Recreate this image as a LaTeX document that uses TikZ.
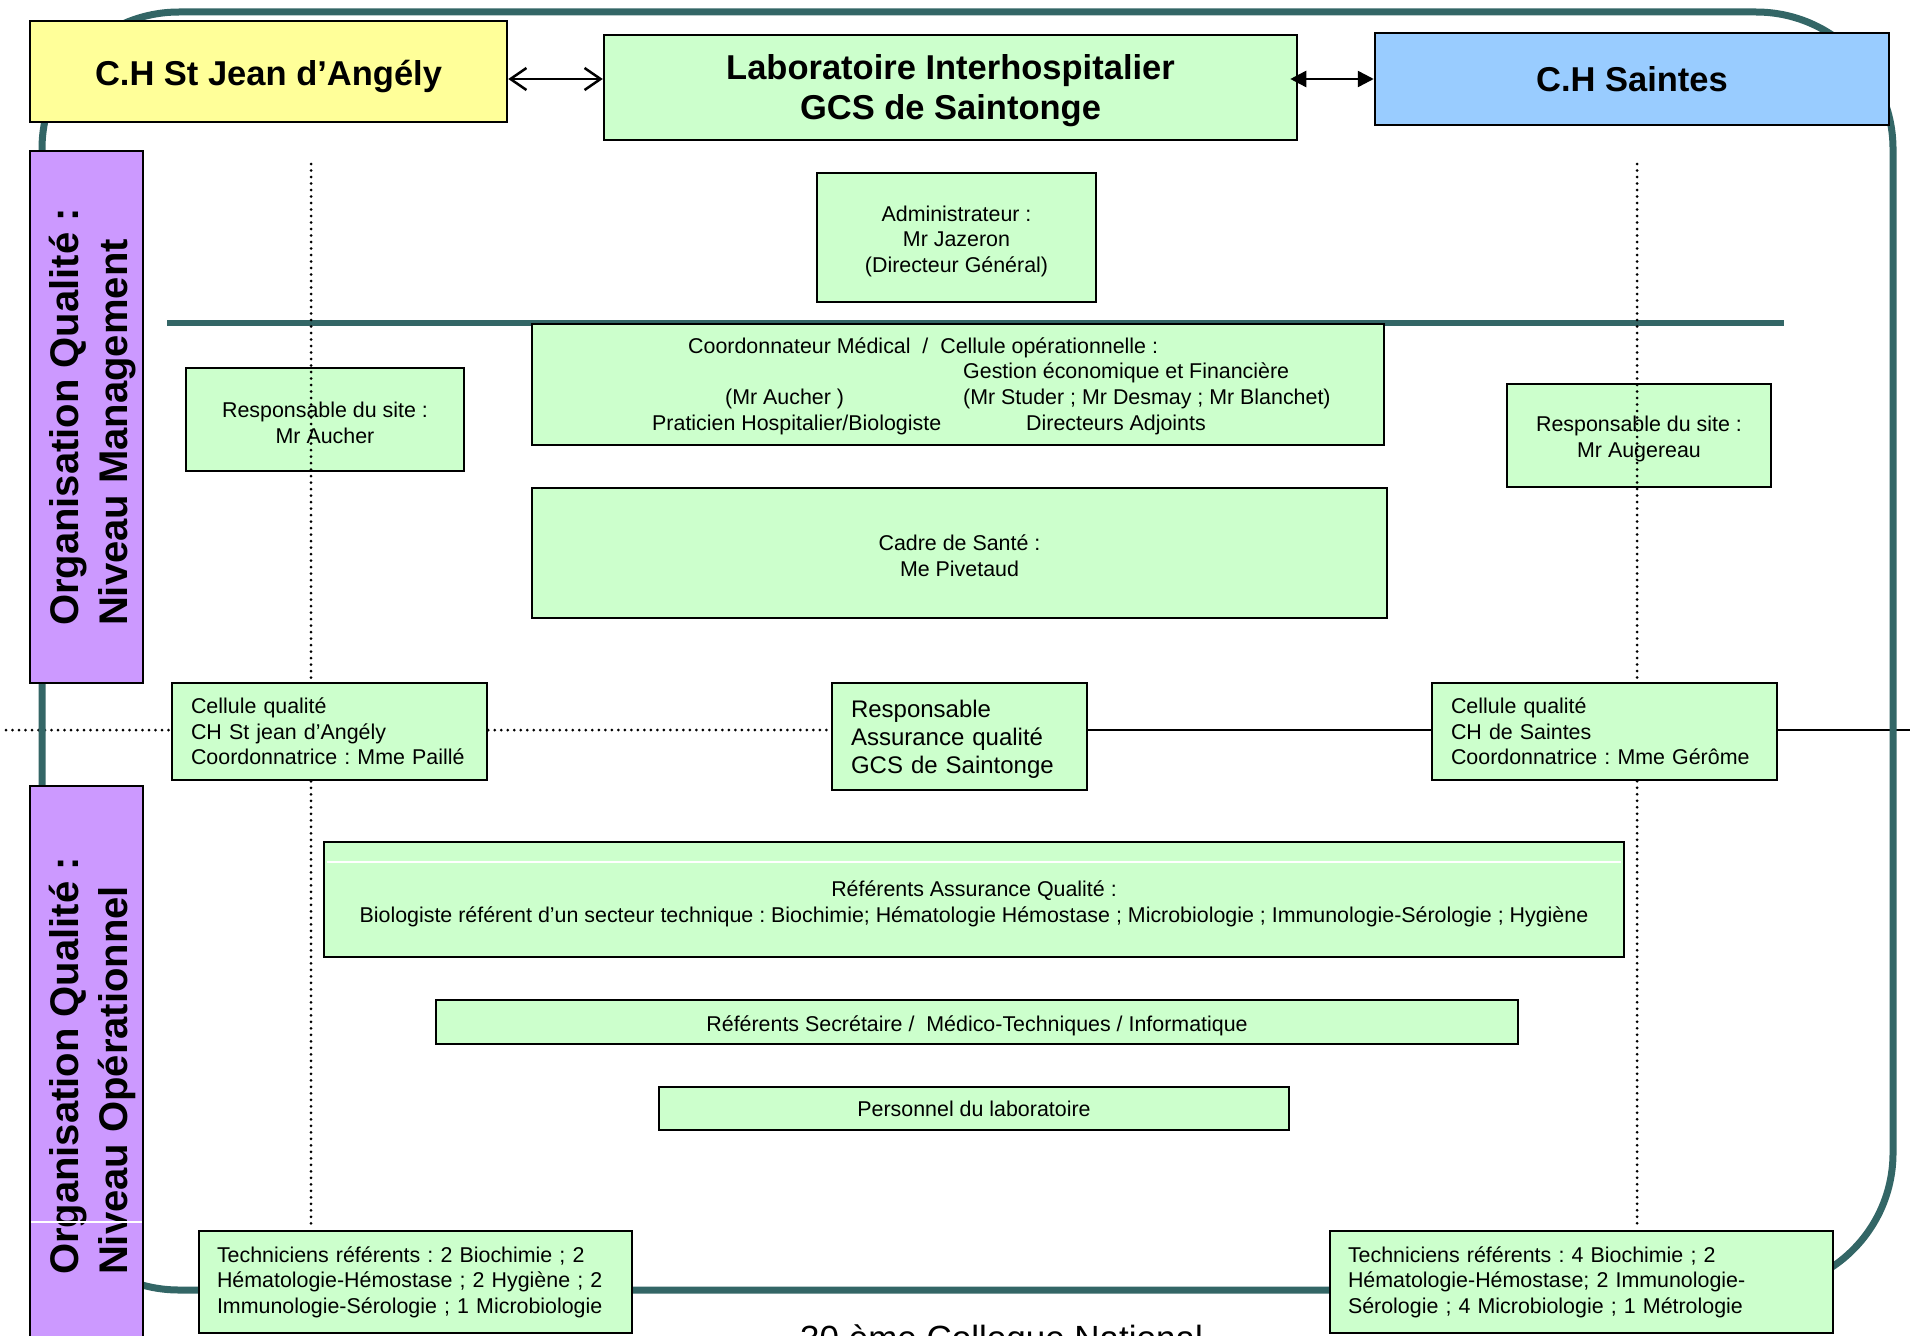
\documentclass[tikz,border=0pt]{standalone}
\usepackage{fontspec}
\setmainfont{Liberation Sans}
\usetikzlibrary{arrows.meta}
\definecolor{tealb}{RGB}{51,102,102}
\definecolor{gfill}{RGB}{204,255,204}
\definecolor{yfill}{RGB}{255,255,153}
\definecolor{bfill}{RGB}{153,204,255}
\definecolor{pfill}{RGB}{204,153,255}
\newcommand\myfhead{\fontsize{34.5}{40}\selectfont\bfseries}
\newcommand\myfpurp{\fontsize{40}{49}\selectfont\bfseries}
\newcommand\myfsmall{\fontsize{21.4}{25.6}\selectfont}
\newcommand\myfresp{\fontsize{24}{28}\selectfont}
\newcommand\myfbottom{\fontsize{35}{42}\selectfont}
\newcommand\mystrut[1]{\rule{0pt}{#1pt}}
\frenchspacing
\pgfdeclarelayer{bg}
\pgfsetlayers{bg,main}
\begin{document}
\frenchspacing
\begin{tikzpicture}[x=1pt,y=-1pt,
  box/.style={draw=black, line width=2.5pt, fill=gfill, inner sep=0pt, align=center, font=\myfsmall\frenchspacing},
  lbox/.style={box, align=left, inner xsep=19pt},
  txt/.style={anchor=base west, inner sep=0pt, font=\myfsmall\frenchspacing},
  tealline/.style={draw=tealb, line width=7pt},
  dotline/.style={line width=3pt, line cap=round, dash pattern=on 0pt off 6.5pt},
  solidline/.style={line width=2.5pt}]
\useasboundingbox (0,0) rectangle (1910,1335);
\clip (0,0) rectangle (1910,1335);

% outer teal frame and separator
\draw[tealline, rounded corners=137pt] (42,12) rectangle (1893,1290);
\coordinate (tl1) at (167,323);
\coordinate (tl2) at (1784,323);
\draw[tealline, line width=6pt] (tl1) -- (tl2);

% header boxes
\node[box, fill=yfill, font=\myfhead, minimum width=477pt, minimum height=101pt] (stjean) at (268.5,71.5) {\mystrut{36}C.H St Jean d’Angély};
\node[box, font=\myfhead, minimum width=693pt, minimum height=105pt] (labo) at (950.5,87.5) {\mystrut{32}Laboratoire Interhospitalier\\GCS de Saintonge};
\node[box, fill=bfill, font=\myfhead, minimum width=514pt, minimum height=92pt] (saintes) at (1632,79) {C.H Saintes};

% purple side boxes
\node[box, fill=pfill, rotate=90, font=\myfpurp, align=left, minimum width=532pt, minimum height=113pt] (pmgmt) at (86.5,417) {\mystrut{42}Organisation Qualité :\\Niveau Management};
\node[box, fill=pfill, rotate=90, font=\myfpurp, align=left, minimum width=560pt, minimum height=113pt] (poper) at (86.5,1066) {\mystrut{42}Organisation Qualité :\\Niveau Opérationnel};

% management level
\node[box, minimum width=279pt, minimum height=129pt] (admin) at (956.5,237.5) {\mystrut{23}Administrateur :\\Mr Jazeron\\(Directeur Général)};
\node[box, minimum width=852pt, minimum height=121pt] (coord) at (958,384.5) {};
\node[txt] (c1) at (688,353) {Coordonnateur Médical\ \ /\ \ Cellule opérationnelle :};
\node[txt] (c2) at (963,378) {Gestion économique et Financière};
\node[txt] (c3) at (725,404) {(Mr Aucher )};
\node[txt] (c4) at (963,404) {(Mr Studer ; Mr Desmay ; Mr Blanchet)};
\node[txt] (c5) at (652,430) {Praticien Hospitalier/Biologiste};
\node[txt] (c6) at (1026,430) {Directeurs Adjoints};
\node[box, minimum width=278pt, minimum height=103pt] (respL) at (325,419.5) {\mystrut{22.5}Responsable du site :\\Mr Aucher};
\node[box, minimum width=264pt, minimum height=103pt] (respR) at (1639,435.5) {\mystrut{22.5}Responsable du site :\\Mr Augereau};
\node[box, minimum width=855pt, minimum height=130pt] (cadre) at (959.5,553) {\mystrut{21}Cadre de Santé :\\Me Pivetaud};

% operational level
\node[box, minimum width=1300pt, minimum height=115pt] (refaq) at (974,899.5) {\mystrut{24}Référents Assurance Qualité :\\Biologiste référent d’un secteur technique : Biochimie; Hématologie Hémostase ; Microbiologie ; Immunologie-Sérologie ; Hygiène};
\node[box, minimum width=1082pt, minimum height=44pt] (refsec) at (977,1022) {\mystrut{24}Référents Secrétaire /\ \ Médico-Techniques / Informatique};
\node[box, minimum width=630pt, minimum height=43pt] (perso) at (974,1108.5) {Personnel du laboratoire};
\node[lbox, inner xsep=18pt, text width=397pt, minimum height=102pt] (techL) at (415.5,1282) {Techniciens référents : 2 Biochimie ; 2\\Hématologie-Hémostase ; 2 Hygiène ; 2\\Immunologie-Sérologie ; 1 Microbiologie};
\node[lbox, inner xsep=18pt, text width=467pt, minimum height=102pt] (techR) at (1581.5,1282) {Techniciens référents : 4 Biochimie ; 2\\Hématologie-Hémostase; 2 Immunologie-\\Sérologie ; 4 Microbiologie ; 1 Métrologie};

% quality cells
\node[lbox, text width=277pt, minimum height=97pt] (cellL) at (329.5,731.5) {Cellule qualité\\CH St jean d’Angély\\Coordonnatrice : Mme Paillé};
\node[lbox, font=\myfresp, text width=217pt, minimum height=107pt] (respaq) at (959.5,736.5) {\mystrut{23}Responsable\\Assurance qualité\\GCS de Saintonge};
\node[lbox, text width=307pt, minimum height=97pt] (cellR) at (1604.5,731.5) {Cellule qualité\\CH de Saintes\\Coordonnatrice : Mme Gérôme};

% vertical dotted lines
\coordinate (dl) at (311,164);
\coordinate (dr) at (1637,164);
\draw[dotline] (dl) -- (dl |- cellL.north);
\draw[dotline] (dl |- cellL.south) -- (dl |- techL.north);
\draw[dotline] (dr) -- (dr |- cellR.north);
\draw[dotline] (dr |- cellR.south) -- (dr |- techR.north);

% horizontal lines through quality cells
\coordinate (hl) at (6,730);
\coordinate (hr) at (1910,730);
\begin{pgfonlayer}{bg}
\draw[dotline] (hl) -- (hl -| cellL.west);
\draw[dotline] (hl -| cellL.east) -- (hl -| respaq.west);
\draw[solidline] (hl -| respaq.east) -- (hl -| cellR.west);
\draw[solidline] (hl -| cellR.east) -- (hr);
\end{pgfonlayer}

% header arrows
\coordinate (ay) at (0,79);
\draw[line width=2.5pt, {Straight Barb[length=16pt,width=22pt]}-{Straight Barb[length=16pt,width=22pt]}] (stjean.east |- ay) -- (labo.west |- ay);
\draw[line width=2.5pt, {Triangle[length=16pt,width=16pt]}-{Triangle[length=16pt,width=16pt]}] ([xshift=-8pt]labo.east |- ay) -- (saintes.west |- ay);

% thin white artefacts
\draw[white, line width=1.2pt] (31,1222) -- (142,1222);
\draw[white, line width=1.2pt] (327,862) -- (1621,862);

% clipped footer
\node[anchor=base west, inner sep=0pt, font=\myfbottom] (colloque) at (800,1350) {30 ème Colloque National};
\end{tikzpicture}
\end{document}
